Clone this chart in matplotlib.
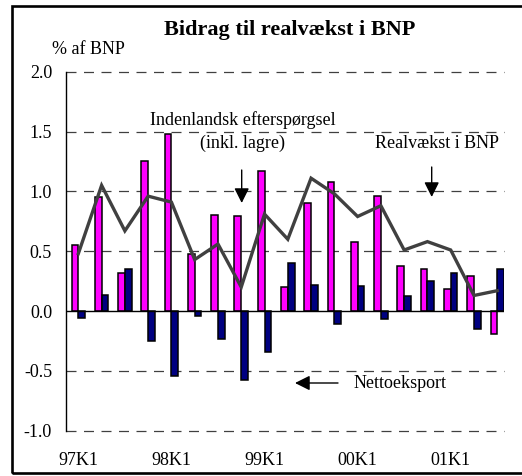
import matplotlib
matplotlib.use("Agg")
import matplotlib.pyplot as plt
import numpy as np
from matplotlib.patches import Rectangle

plt.rcParams['font.family'] = ['Liberation Serif', 'DejaVu Serif']

quarters = ['97K1', '97K2', '97K3', '97K4', '98K1', '98K2', '98K3', '98K4',
            '99K1', '99K2', '99K3', '99K4', '00K1', '00K2', '00K3', '00K4',
            '01K1', '01K2', '01K3']
domestic = [0.55, 0.95, 0.32, 1.25, 1.48, 0.48, 0.80, 0.79, 1.17, 0.20,
            0.90, 1.08, 0.58, 0.96, 0.38, 0.35, 0.18, 0.29, -0.19]
net_export = [-0.055, 0.13, 0.35, -0.25, -0.54, -0.045, -0.23, -0.58, -0.34, 0.40,
              0.22, -0.105, 0.21, -0.07, 0.125, 0.25, 0.32, -0.15, 0.35]
gdp_growth = [0.48, 1.05, 0.67, 0.96, 0.91, 0.43, 0.56, 0.20, 0.81, 0.60,
              1.11, 0.98, 0.79, 0.88, 0.51, 0.58, 0.51, 0.13, 0.17]
tick_labels = ['97K1', '98K1', '99K1', '00K1', '01K1']
yticks = [-1.0, -0.5, 0.0, 0.5, 1.0, 1.5, 2.0]

W, H = 522, 476
fig = plt.figure(figsize=(W / 100, H / 100), dpi=100)
ax = fig.add_axes([66 / W, 1 - 430.7 / H, (504 - 66) / W, (430.7 - 71.7) / H])

x = np.arange(len(quarters))
bw = 0.29
ax.bar(x - bw / 2, domestic, width=bw, color='#FF00FF', edgecolor='black', linewidth=1.1, zorder=3)
ax.bar(x + bw / 2, net_export, width=bw, color='#000080', edgecolor='black', linewidth=1.1, zorder=3)
ax.plot(x, gdp_growth, color='#404040', linewidth=2.4, zorder=4, solid_joinstyle='miter')

ax.set_xlim(-0.53, len(quarters) - 1 + 0.29)
ax.set_ylim(-1.0, 2.0)
for yv in yticks:
    if yv == 0:
        ax.axhline(0, color='black', linewidth=1.0, zorder=5)
    else:
        ax.axhline(yv, color='#404040', linewidth=0.9, linestyle=(0, (8, 6)), zorder=1, clip_on=False)

FS = 13
ax.set_yticks(yticks)
ax.set_yticklabels([f'{v:.1f}' for v in yticks], fontsize=FS)
ax.set_xticks([quarters.index(t) for t in tick_labels])
ax.set_xticklabels(tick_labels, fontsize=FS)
ax.tick_params(axis='y', length=0, pad=10)
ax.tick_params(axis='x', length=0, pad=15)
for s in ['top', 'right', 'bottom']:
    ax.spines[s].set_visible(False)
ax.spines['left'].set_linewidth(1.0)
ax.patch.set_alpha(0)

def fx(px):
    return px / W

def fy(py):
    return 1 - py / H

fig.text(fx(290), fy(30), 'Bidrag til realvækst i BNP', fontsize=16, fontweight='bold',
         ha='center', va='center')
fig.text(fx(52), fy(49), '% af BNP', fontsize=FS, ha='left', va='center')

fig.text(fx(243), fy(120), 'Indenlandsk efterspørgsel', fontsize=FS, ha='center', va='center')
fig.text(fx(243), fy(143), '(inkl. lagre)', fontsize=FS, ha='center', va='center')
fig.text(fx(437), fy(144), 'Realvækst i BNP', fontsize=FS, ha='center', va='center')
fig.text(fx(400), fy(383), 'Nettoeksport', fontsize=FS, ha='center', va='center')

arrow = dict(arrowstyle='-|>,head_length=0.5,head_width=0.25', color='black', lw=1.0,
             mutation_scale=18, shrinkA=0, shrinkB=0)
ax.annotate('', xy=(fx(241.7), fy(203)), xytext=(fx(241.7), fy(170)),
            xycoords='figure fraction', textcoords='figure fraction', arrowprops=arrow)
ax.annotate('', xy=(fx(431.7), fy(197)), xytext=(fx(431.7), fy(167)),
            xycoords='figure fraction', textcoords='figure fraction', arrowprops=arrow)
ax.annotate('', xy=(fx(295), fy(383)), xytext=(fx(338), fy(383)),
            xycoords='figure fraction', textcoords='figure fraction', arrowprops=arrow)

fig.patches.append(Rectangle((fx(11.5), fy(473)), fx(530 - 11.5), (473 - 6) / H,
                             transform=fig.transFigure, fill=False, edgecolor='black',
                             linewidth=1.9, zorder=10))

fig.savefig('out.png', dpi=100)
